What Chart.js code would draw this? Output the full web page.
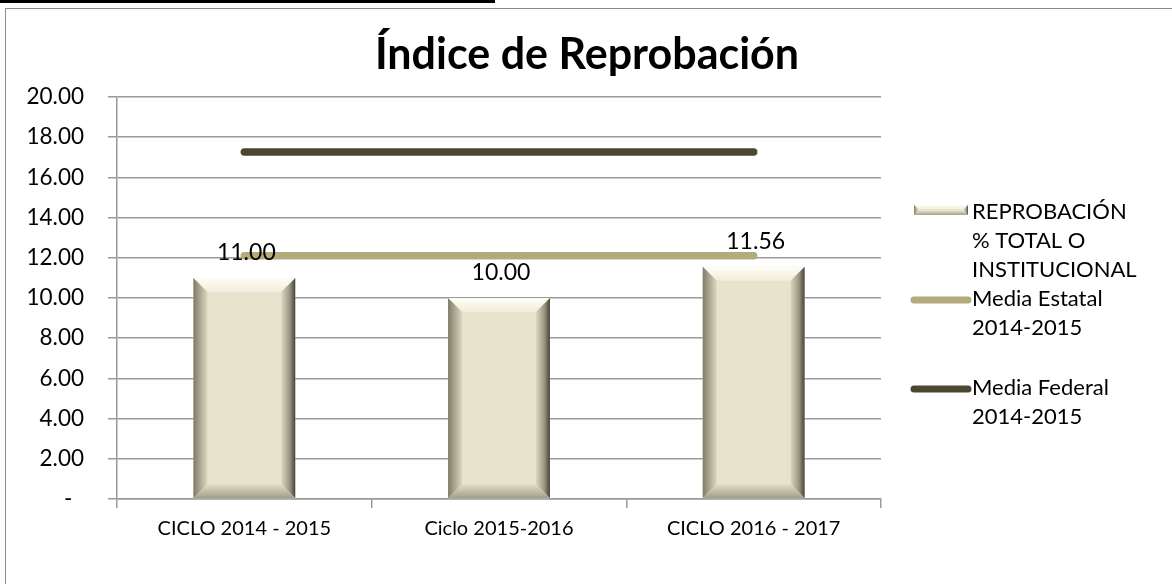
<!DOCTYPE html>
<html>
<head>
<meta charset="utf-8">
<script src="https://cdn.jsdelivr.net/npm/chart.js@4.4.1/dist/chart.umd.min.js"></script>
<style>
  body { margin: 0; background: #fff; }
  #wrap { position: relative; width: 1172px; height: 584px; overflow: hidden; }
  #topline { position: absolute; left: 0; top: 0; width: 495px; height: 3px; background: #000; }
  #frame { position: absolute; left: 5px; top: 8px; width: 1200px; height: 640px; border: 1.5px solid #8c8c8c; }
  canvas { position: absolute; left: 0; top: 0; }
</style>
</head>
<body>
<div id="wrap">
  <div id="topline"></div>
  <div id="frame"></div>
  <canvas id="reprobChart" width="1172" height="584"></canvas>
</div>
<script>
// datos
var ciclos = ['CICLO 2014 - 2015', 'Ciclo 2015-2016', 'CICLO 2016 - 2017'];
var reprobacion = [11.00, 10.00, 11.56];
var mediaEstatal = [12.1, 12.1, 12.1];
var mediaFederal = [17.26, 17.26, 17.26];
var yTicks = [0, 2, 4, 6, 8, 10, 12, 14, 16, 18, 20];

var FONT = 'Lato, "Open Sans", sans-serif';
var CREAM = '#e8e3cd';
var ESTATAL = '#b3ab7c';
var FEDERAL = '#4c4731';

// bisel de las barras, encima del relleno
function bevelRect(ctx, left, top, right, bottom, b) {
    var g;
    g = ctx.createLinearGradient(0, top, 0, top + b);
    g.addColorStop(0, '#fffef6');
    g.addColorStop(1, '#f1eddb');
    ctx.fillStyle = g;
    ctx.beginPath();
    ctx.moveTo(left, top); ctx.lineTo(right, top); ctx.lineTo(right - b, top + b); ctx.lineTo(left + b, top + b);
    ctx.closePath(); ctx.fill();

    g = ctx.createLinearGradient(left, 0, left + b, 0);
    g.addColorStop(0, '#7e7b68');
    g.addColorStop(1, '#dcd7c0');
    ctx.fillStyle = g;
    ctx.beginPath();
    ctx.moveTo(left, top); ctx.lineTo(left + b, top + b); ctx.lineTo(left + b, bottom - b); ctx.lineTo(left, bottom);
    ctx.closePath(); ctx.fill();

    g = ctx.createLinearGradient(right - b, 0, right, 0);
    g.addColorStop(0, '#dcd7c1');
    g.addColorStop(0.6, '#9a9682');
    g.addColorStop(1, '#46433a');
    ctx.fillStyle = g;
    ctx.beginPath();
    ctx.moveTo(right, top); ctx.lineTo(right - b, top + b); ctx.lineTo(right - b, bottom - b); ctx.lineTo(right, bottom);
    ctx.closePath(); ctx.fill();

    g = ctx.createLinearGradient(0, bottom - b, 0, bottom);
    g.addColorStop(0, '#e2ddc6');
    g.addColorStop(1, '#a29e88');
    ctx.fillStyle = g;
    ctx.beginPath();
    ctx.moveTo(left, bottom); ctx.lineTo(left + b, bottom - b); ctx.lineTo(right - b, bottom - b); ctx.lineTo(right, bottom);
    ctx.closePath(); ctx.fill();
}

var bevelPlugin = {
    id: 'bevel',
    afterDatasetDraw: function (chart, args) {
        if (args.index !== 0) return;
        var ctx = chart.ctx;
        ctx.save();
        args.meta.data.forEach(function (bar) {
            var p = bar.getProps(['x', 'y', 'base', 'width'], true);
            bevelRect(ctx, p.x - p.width / 2, p.y, p.x + p.width / 2, p.base, 14);
        });
        ctx.restore();
    }
};

var labelsPlugin = {
    id: 'barLabels',
    afterDatasetsDraw: function (chart) {
        var ctx = chart.ctx;
        var meta = chart.getDatasetMeta(0);
        ctx.save();
        ctx.font = '23px ' + FONT;
        ctx.fillStyle = '#000';
        ctx.textAlign = 'center';
        ctx.textBaseline = 'middle';
        meta.data.forEach(function (bar, i) {
            ctx.fillText(reprobacion[i].toFixed(2), bar.x + 2, bar.y - 25);
        });
        ctx.restore();
    }
};

// titulo y leyenda dibujados a mano (la leyenda de Excel usa varias lineas)
var decorPlugin = {
    id: 'decor',
    afterDraw: function (chart) {
        var ctx = chart.ctx;
        ctx.save();
        ctx.fillStyle = '#000';
        ctx.textAlign = 'center';
        ctx.textBaseline = 'middle';
        ctx.font = 'bold 43px ' + FONT;
        ctx.fillText('Índice de Reprobación', 587, 55);

        var items = [
            { lines: ['REPROBACIÓN', '% TOTAL O', 'INSTITUCIONAL'], y: 212, type: 'bar' },
            { lines: ['Media Estatal', '2014-2015'], y: 299, type: 'line', color: ESTATAL },
            { lines: ['Media Federal', '2014-2015'], y: 388, type: 'line', color: FEDERAL }
        ];
        ctx.font = '22px ' + FONT;
        ctx.textAlign = 'left';
        items.forEach(function (it) {
            if (it.type === 'bar') {
                ctx.fillStyle = CREAM;
                ctx.fillRect(914, it.y - 7, 54, 10);
                bevelRect(ctx, 914, it.y - 7, 968, it.y + 3, 4);
            } else {
                ctx.strokeStyle = it.color;
                ctx.lineWidth = 7;
                ctx.lineCap = 'round';
                ctx.beginPath();
                ctx.moveTo(914, it.y + 1);
                ctx.lineTo(968, it.y + 1);
                ctx.stroke();
            }
            ctx.fillStyle = '#000';
            it.lines.forEach(function (t, k) {
                ctx.fillText(t, 972, it.y + k * 28.8);
            });
        });
        ctx.restore();
    }
};

var ctx = document.getElementById('reprobChart').getContext('2d');
var chart = new Chart(ctx, {
    plugins: [bevelPlugin, labelsPlugin, decorPlugin],
    data: {
        labels: ciclos,
        datasets: [{
            type: 'bar',
            label: 'REPROBACIÓN % TOTAL O INSTITUCIONAL',
            data: reprobacion,
            backgroundColor: CREAM,
            borderWidth: 0,
            categoryPercentage: 1,
            barPercentage: 0.4
        }, {
            type: 'line',
            label: 'Media Estatal 2014-2015',
            data: mediaEstatal,
            borderColor: ESTATAL,
            borderWidth: 7.5,
            borderCapStyle: 'round',
            pointRadius: 0,
            fill: false
        }, {
            type: 'line',
            label: 'Media Federal 2014-2015',
            data: mediaFederal,
            borderColor: FEDERAL,
            borderWidth: 7.5,
            borderCapStyle: 'round',
            pointRadius: 0,
            fill: false
        }]
    },
    options: {
        responsive: false,
        animation: false,
        layout: {
            padding: { top: 97, right: 291, left: 0, bottom: 0 }
        },
        plugins: {
            legend: { display: false },
            title: { display: false },
            tooltip: { enabled: false }
        },
        scales: {
            x: {
                offset: true,
                grid: {
                    offset: true,
                    drawOnChartArea: false,
                    color: '#9a9a9a',
                    lineWidth: 1.5,
                    tickLength: 9
                },
                border: { color: '#9a9a9a', width: 1.5 },
                ticks: {
                    color: '#000',
                    font: { family: FONT, size: 20 },
                    padding: 9,
                    maxRotation: 0
                },
                afterFit: function (scale) { scale.height = 85; }
            },
            y: {
                min: 0,
                max: 20,
                afterBuildTicks: function (scale) {
                    scale.ticks = yTicks.map(function (v) { return { value: v }; });
                },
                grid: {
                    color: '#9a9a9a',
                    lineWidth: 1.5,
                    tickLength: 9
                },
                border: { color: '#9a9a9a', width: 1.5 },
                ticks: {
                    color: '#000',
                    font: { family: FONT, size: 22.5 },
                    padding: 24,
                    callback: function (v) { return v === 0 ? '-  ' : v.toFixed(2); }
                },
                afterFit: function (scale) { scale.width = 117; }
            }
        }
    }
});
</script>
</body>
</html>
